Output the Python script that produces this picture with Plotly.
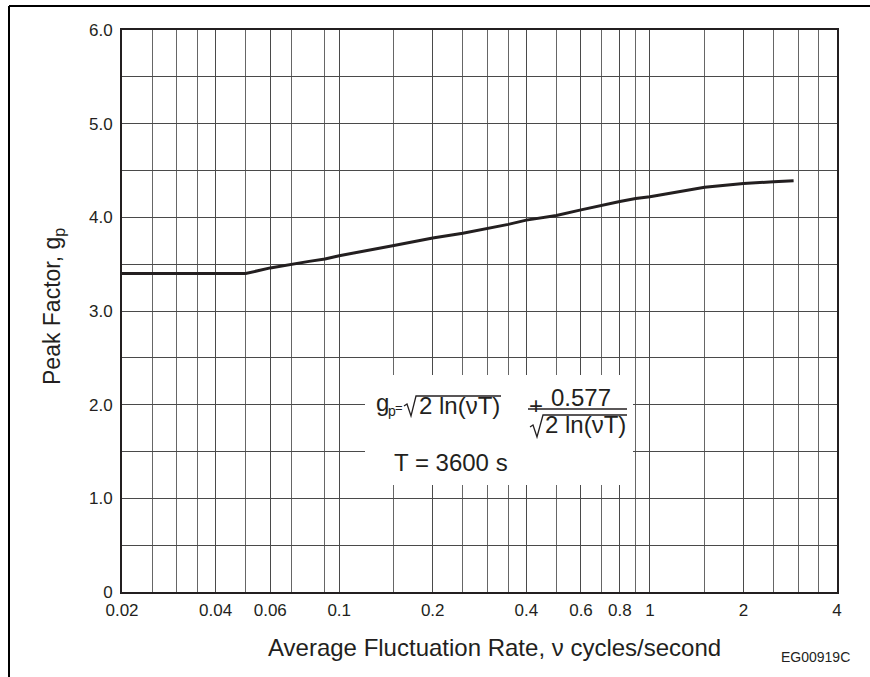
import plotly.graph_objects as go

# peak factor curve
nu = [0.02, 0.05, 0.06, 0.07, 0.08, 0.09, 0.1, 0.15, 0.2, 0.25, 0.3, 0.35,
      0.4, 0.5, 0.6, 0.7, 0.8, 0.9, 1.0, 1.5, 2.0, 2.5, 2.9]
gp = [3.40, 3.40, 3.46, 3.50, 3.53, 3.555, 3.59, 3.70, 3.78, 3.83, 3.88, 3.925,
      3.97, 4.02, 4.08, 4.13, 4.17, 4.20, 4.22, 4.32, 4.36, 4.38, 4.39]

# labelled ticks and extra grid lines
x_ticks = [0.02, 0.04, 0.06, 0.1, 0.2, 0.4, 0.6, 0.8, 1, 2, 4]
x_ticktext = ["0.02", "0.04", "0.06", "0.1", "0.2", "0.4", "0.6", "0.8", "1", "2", "4"]
x_minor = [0.025, 0.03, 0.035, 0.05, 0.07, 0.09, 0.15, 0.25, 0.3, 0.35,
           0.5, 0.7, 0.9, 1.5, 2.5, 3, 3.5]
y_ticks = [0, 1, 2, 3, 4, 5, 6]
y_ticktext = ["0", "1.0", "2.0", "3.0", "4.0", "5.0", "6.0"]
y_minor = [0.5, 1.5, 2.5, 3.5, 4.5, 5.5]

W, H = 870, 677
L, R, T, B = 122, 837, 30, 592      # plot area in pixels
INK = "#231f20"
FONT = "Liberation Sans, Arial, sans-serif"


def px(x):
    return (x - L) / (R - L)


def py(y):
    return (B - y) / (B - T)


def path(points):
    return "M" + " L".join(f"{px(x):.5f},{py(y):.5f}" for x, y in points)


fig = go.Figure()
fig.add_trace(go.Scatter(x=nu, y=gp, mode="lines",
                         line=dict(color=INK, width=3), showlegend=False))

shapes = [
    # white box behind the formula
    dict(type="rect", xref="paper", yref="paper", x0=px(365), x1=px(633),
         y0=py(485), y1=py(375), fillcolor="white", line_width=0, layer="above"),
    # radical + overbar, main term
    dict(type="path", xref="paper", yref="paper",
         path=path([(404, 406), (407, 404), (411, 416), (416, 396), (501, 396)]),
         line=dict(color=INK, width=1.3)),
    # fraction bar
    dict(type="line", xref="paper", yref="paper", x0=px(528), x1=px(627),
         y0=py(409), y1=py(409), line=dict(color=INK, width=1.3)),
    # radical + overbar, denominator
    dict(type="path", xref="paper", yref="paper",
         path=path([(530, 427), (533, 425), (537, 437), (543, 415), (627, 415)]),
         line=dict(color=INK, width=1.3)),
    # page frame (top and left)
    dict(type="line", xref="paper", yref="paper", x0=px(9), x1=px(880),
         y0=py(6), y1=py(6), line=dict(color="black", width=2)),
    dict(type="line", xref="paper", yref="paper", x0=px(9), x1=px(9),
         y0=py(6), y1=py(690), line=dict(color="black", width=2)),
]


def note(text, x, y, size, xanchor="center", angle=0):
    return dict(text=text, xref="paper", yref="paper", x=px(x), y=py(y),
                xanchor=xanchor, yanchor="middle", showarrow=False,
                textangle=angle, font=dict(family=FONT, size=size, color=INK))


annotations = [
    note("g", 374, 403, 24, "left"),
    note("p", 386, 411, 14, "left"),
    note("=", 393, 407, 13, "left"),
    note("2 ln(\u03bdT)", 417, 405, 24, "left"),
    note("+", 536, 405, 24),
    note("0.577", 581, 397, 24),
    note("2 ln(\u03bdT)", 543, 424, 24, "left"),
    note("T = 3600 s", 392, 462, 24, "left"),
    note("Average Fluctuation Rate, \u03bd cycles/second", 494, 647, 24),
    note("Peak Factor, g<sub>p</sub>", 53, 307, 23, angle=-90),
    note("EG00919C", 815, 657, 14),
]

grid = dict(showgrid=True, gridcolor="#4a4a4a", gridwidth=1, ticks="",
            showline=True, linecolor=INK, linewidth=2, mirror=True,
            zeroline=False, tickfont=dict(size=17))

fig.update_layout(
    width=W, height=H,
    margin=dict(l=L, r=W - R, t=T, b=H - B),
    paper_bgcolor="white", plot_bgcolor="white",
    shapes=shapes, annotations=annotations,
    font=dict(family=FONT, size=17, color=INK),
    xaxis=dict(type="log", range=[-1.69897, 0.60206],
               tickvals=x_ticks, ticktext=x_ticktext, ticklabelstandoff=2,
               minor=dict(tickvals=x_minor, showgrid=True, gridcolor="#666",
                          gridwidth=1, ticks=""),
               **grid),
    yaxis=dict(range=[0, 6], tickvals=y_ticks, ticktext=y_ticktext,
               ticklabelstandoff=4,
               minor=dict(tickvals=y_minor, showgrid=True, gridcolor="#4a4a4a",
                          gridwidth=1, ticks=""),
               **grid),
)

# drop the default page margin so the figure sits at the window's corner
fig.write_html("out.html", config={"displayModeBar": False},
               post_script="document.body.style.margin='0';")
